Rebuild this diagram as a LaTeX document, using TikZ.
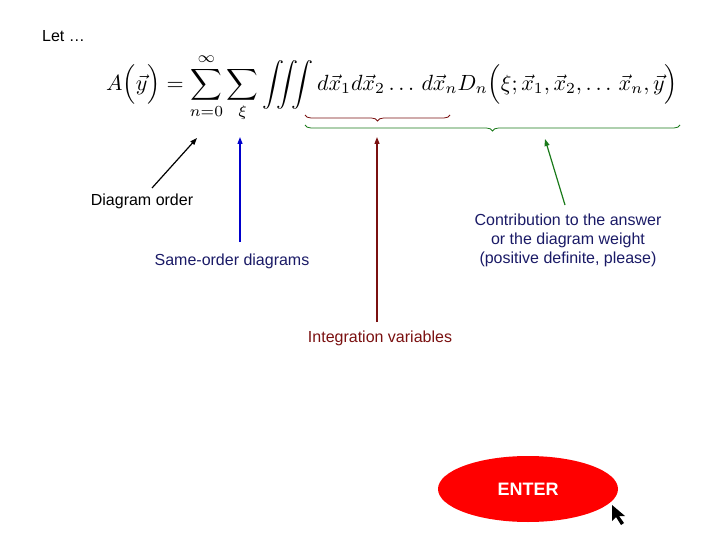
\documentclass[tikz,border=0pt]{standalone}
\usepackage{fontspec}
\setmainfont{Liberation Sans}
\usepackage{amsmath}
\usetikzlibrary{decorations.pathreplacing,arrows.meta,shapes.geometric}
\definecolor{navy}{HTML}{1A1A66}
\definecolor{dred}{HTML}{7A1010}
\definecolor{dgreen}{HTML}{1A7A1A}
\tikzset{lbl/.style={font=\fontsize{16}{19}\selectfont, align=center, inner sep=0pt},
 arr/.style={-{Triangle[length=7pt,width=5pt]}, line width=1.2pt},
 brc/.style={decorate, decoration={brace, mirror, amplitude=6pt}, line width=0.8pt}}
\begin{document}
\begin{tikzpicture}[x=1pt,y=-1pt]
\useasboundingbox (0,0) rectangle (720,540);
\node[lbl, anchor=west] (let) at (42,36) {Let …};
\node[inner sep=0pt] (eq) at (392,88) {\scalebox{2.2}{$\displaystyle A\Bigl(\vec y\Bigr)=\sum_{n=0}^{\infty}\sum_{\xi}\iiint d\vec x_1 d\vec x_2\ldots\, d\vec x_n D_n\Bigl(\xi;\vec x_1,\vec x_2,\ldots\, \vec x_n,\vec y\Bigr)$}};
\coordinate (rb1) at (305,115); \coordinate (rb2) at (450,115);
\coordinate (gb1) at (305,125); \coordinate (gb2) at (680,125);
\draw[brc, dred] (rb1) -- (rb2);
\draw[brc, dgreen] (gb1) -- (gb2);
\node[lbl] (do) at (142,201) {Diagram order};
\node[lbl, text=navy] (so) at (232,261) {Same-order diagrams};
\node[lbl, text=navy] (cw) at (568,240) {Contribution to the answer\\or the diagram weight\\(positive definite, please)};
\node[lbl, text=dred] (iv) at (380,338) {Integration variables};
\coordinate (t1) at (197,138); \coordinate (f1) at (152,188);
\coordinate (t2) at (240,137); \coordinate (f2) at (240,242);
\coordinate (t3) at (377,137); \coordinate (f3) at (377,322);
\coordinate (t4) at (545,139); \coordinate (f4) at (565,205);
\draw[arr, black] (f1) -- (t1);
\draw[arr, blue!80!black] (f2) -- (t2);
\draw[arr, dred] (f3) -- (t3);
\draw[arr, dgreen] (f4) -- (t4);
\node[ellipse, fill=red, minimum width=180pt, minimum height=66pt, inner sep=0pt] (en) at (528,489) {};
\node[text=white, font=\bfseries\fontsize{18}{20}\selectfont] (et) at (en) {ENTER};
\coordinate (c1) at (612,505);
\fill[black] (c1) -- ++(0,16) -- ++(4,-4) -- ++(5,8) -- ++(3,-2) -- ++(-5,-7) -- ++(6,0) -- cycle;
\end{tikzpicture}
\end{document}
